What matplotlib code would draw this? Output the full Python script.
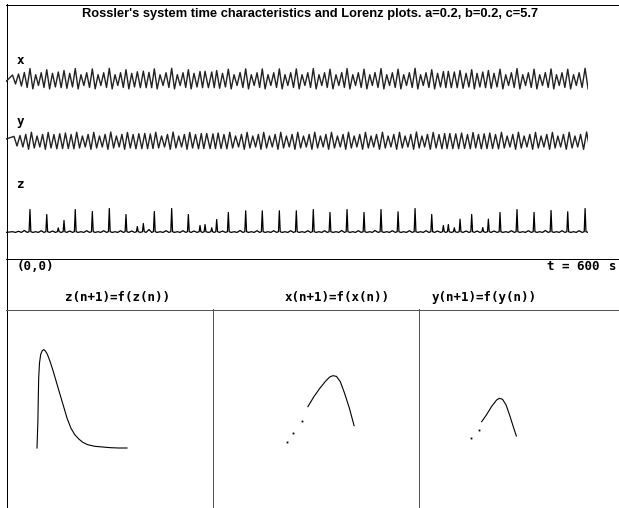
import matplotlib
matplotlib.use("Agg")
import matplotlib.pyplot as plt
import numpy as np

W, H = 619, 508

# one entry per oscillation of the attractor (time of the x maximum / z spike)
cycle_t = [6.7, 12.9, 18.9, 24.7, 30.6, 36.3, 42.0, 47.9, 53.9, 59.8,
           65.7, 71.4, 77.3, 83.2, 89.0, 94.9, 100.7, 106.5, 112.4, 118.1,
           123.7, 129.6, 135.4, 141.6, 147.4, 152.9, 158.8, 165.0, 170.8, 176.6,
           182.5, 188.0, 193.8, 200.0, 205.2, 212.1, 217.2, 223.2, 229.2, 235.1,
           241.3, 247.1, 252.9, 258.8, 264.2, 270.1, 276.0, 281.8, 287.6, 293.5,
           299.3, 305.2, 311.1, 316.8, 322.7, 328.4, 334.0, 340.2, 346.1, 351.6,
           357.5, 363.2, 369.1, 375.0, 380.4, 386.6, 392.5, 398.3, 404.2, 410.0,
           415.8, 421.7, 427.4, 433.0, 438.9, 444.9, 450.9, 456.0, 462.2, 468.1,
           474.3, 480.1, 485.6, 491.5, 497.3, 503.1, 509.3, 515.2, 521.0, 526.8,
           532.7, 538.5, 544.4, 550.2, 556.0, 561.9, 567.5, 573.2, 579.1, 585.1,
           590.8, 597.0]

z_peak = [0.8, 1.2, 2.0, 23, 0.8, 1.8, 18, 1.5, 4.6, 12,
          1.5, 23, 0.8, 1.8, 21, 0.8, 1.8, 24, 0.8, 1.8,
          18, 1.5, 6, 9, 3, 21, 0.8, 1.8, 24, 0.8,
          1.8, 18, 1.5, 7, 8, 4.7, 13, 1.5, 20, 0.8,
          2.0, 21.7, 0.8, 1.8, 21.7, 0.8, 1.8, 21.7, 0.8, 1.8,
          21.7, 0.8, 1.8, 23, 0.8, 1.8, 20, 0.8, 2.0, 23,
          0.8, 1.8, 20, 0.8, 2.0, 23, 0.8, 1.8, 20.7, 0.8,
          1.8, 24, 0.8, 1.8, 18, 1.5, 7, 8, 4.7, 13.3,
          1.5, 18, 1.5, 5, 13.3, 1.5, 20, 0.8, 1.8, 23,
          0.8, 1.8, 20, 0.8, 2.0, 22, 0.8, 1.8, 20.7, 0.8,
          1.8, 24]
z_floor = 0.1

x_start = -2.0
x_max = [4.5, 5.5, 7.0, 10.9, 4.8, 6.8, 9.8, 6.2, 7.5, 9.0,
         6.2, 10.9, 4.8, 6.8, 10.6, 4.8, 6.8, 11.2, 4.8, 6.8,
         9.8, 6.2, 7.8, 8.4, 7.2, 10.6, 4.8, 6.8, 11.2, 4.8,
         6.8, 9.8, 6.2, 8.0, 8.2, 7.5, 9.0, 6.2, 10.3, 4.8,
         7.0, 10.6, 4.8, 6.8, 10.6, 4.8, 6.8, 10.6, 4.8, 6.8,
         10.6, 4.8, 6.8, 10.9, 4.8, 6.8, 10.3, 4.8, 7.0, 10.9,
         4.8, 6.8, 10.3, 4.8, 7.0, 10.9, 4.8, 6.8, 10.3, 4.8,
         6.8, 11.2, 4.8, 6.8, 9.8, 6.2, 8.0, 8.2, 7.5, 9.0,
         6.2, 9.8, 6.2, 7.5, 9.0, 6.2, 10.3, 4.8, 6.8, 10.9,
         4.8, 6.8, 10.3, 4.8, 7.0, 10.6, 4.8, 6.8, 10.3, 4.8,
         6.8, 11.2]
x_min = [-4.5, -6.5, -8.0, -9.4, -6.0, -8.0, -9.4, -7.5, -8.2, -8.8,
         -7.5, -9.4, -6.0, -8.0, -9.4, -6.0, -8.0, -9.4, -6.0, -8.0,
         -9.4, -7.5, -8.2, -8.2, -8.2, -9.4, -6.0, -8.0, -9.4, -6.0,
         -8.0, -9.4, -7.5, -8.2, -8.2, -8.2, -8.8, -7.5, -9.4, -6.0,
         -8.0, -9.4, -6.0, -8.0, -9.4, -6.0, -8.0, -9.4, -6.0, -8.0,
         -9.4, -6.0, -8.0, -9.4, -6.0, -8.0, -9.4, -6.0, -8.0, -9.4,
         -6.0, -8.0, -9.4, -6.0, -8.0, -9.4, -6.0, -8.0, -9.4, -6.0,
         -8.0, -9.4, -6.0, -8.0, -9.4, -7.5, -8.2, -8.2, -8.2, -8.8,
         -7.5, -9.4, -7.5, -8.2, -8.8, -7.5, -9.4, -6.0, -8.0, -9.4,
         -6.0, -8.0, -9.4, -6.0, -8.0, -9.4, -6.0, -8.0, -9.4, -6.0,
         -8.0, -9.4]

y_start = 2.0
y_max = [4.6, 5.5, 6.6, 8.8, 5.0, 6.6, 8.6, 6.5, 7.3, 8.0,
         6.5, 8.8, 5.0, 6.6, 8.7, 5.0, 6.6, 9.0, 5.0, 6.6,
         8.6, 6.5, 7.3, 7.6, 7.0, 8.7, 5.0, 6.6, 9.0, 5.0,
         6.6, 8.6, 6.5, 7.4, 7.5, 7.2, 8.0, 6.5, 8.7, 5.0,
         6.6, 8.7, 5.0, 6.6, 8.7, 5.0, 6.6, 8.7, 5.0, 6.6,
         8.7, 5.0, 6.6, 8.8, 5.0, 6.6, 8.7, 5.0, 6.6, 8.8,
         5.0, 6.6, 8.7, 5.0, 6.6, 8.8, 5.0, 6.6, 8.7, 5.0,
         6.6, 9.0, 5.0, 6.6, 8.6, 6.5, 7.4, 7.5, 7.2, 8.0,
         6.5, 8.6, 6.5, 7.2, 8.0, 6.5, 8.7, 5.0, 6.6, 8.8,
         5.0, 6.6, 8.7, 5.0, 6.6, 8.7, 5.0, 6.6, 8.7, 5.0,
         6.6, 9.0]
y_min = [-5.0, -6.0, -8.3, -7.0, -6.0, -8.3, -7.0, -7.8, -7.6, -7.5,
         -7.8, -7.0, -6.0, -8.3, -7.0, -6.0, -8.3, -7.0, -6.0, -8.3,
         -7.0, -7.8, -7.6, -7.6, -7.6, -7.0, -6.0, -8.3, -7.0, -6.0,
         -8.3, -7.0, -7.8, -7.6, -7.6, -7.6, -7.5, -7.8, -7.0, -6.0,
         -8.3, -7.0, -6.0, -8.3, -7.0, -6.0, -8.3, -7.0, -6.0, -8.3,
         -7.0, -6.0, -8.3, -7.0, -6.0, -8.3, -7.0, -6.0, -8.3, -7.0,
         -6.0, -8.3, -7.0, -6.0, -8.3, -7.0, -6.0, -8.3, -7.0, -6.0,
         -8.3, -7.0, -6.0, -8.3, -7.0, -7.8, -7.6, -7.6, -7.6, -7.5,
         -7.8, -7.0, -7.8, -7.6, -7.5, -7.8, -7.0, -6.0, -8.3, -7.0,
         -6.0, -8.3, -7.0, -6.0, -8.3, -7.0, -6.0, -8.3, -7.0, -6.0,
         -8.3, -7.0]

# return maps (successive maxima)
zmap_n = [0.0, 0.22, 0.32, 0.42, 0.62, 0.92, 1.3, 1.7, 2.1, 2.6, 3.28, 4.08, 4.87,
          5.75, 6.54, 7.53, 8.51, 9.5, 10.5, 11.48, 12.66, 14.44, 16.4, 18.4, 20.4, 22.5]
zmap_n1 = [0.0, 6.6, 12.4, 17.4, 21.2, 23.4, 24.3, 24.6, 24.25, 23.4, 21.6, 19.1, 16.4,
           13.4, 10.75, 7.4, 4.9, 3.25, 2.2, 1.4, 0.83, 0.42, 0.25, 0.08, 0.0, 0.0]
xmap_n = [5.74, 6.49, 7.22, 7.96, 8.46, 8.85, 9.3, 9.79, 10.28, 10.93, 11.51]
xmap_n1 = [7.92, 9.17, 10.2, 11.12, 11.62, 11.79, 11.71, 11.04, 9.71, 7.71, 5.54]
xmap_dots_n = [3.12, 3.88, 5.0]
xmap_dots_n1 = [3.5, 4.62, 6.12]
ymap_n = [4.58, 5.17, 5.81, 6.45, 6.8, 7.2, 7.64, 8.14, 8.53, 8.92]
ymap_n1 = [6.04, 6.87, 7.92, 8.75, 8.96, 8.83, 8.12, 6.67, 5.42, 4.25]
ymap_dots_n = [3.2, 4.24]
ymap_dots_n1 = [3.96, 5.0]

T_END = 600

fig = plt.figure(figsize=(W / 100, H / 100), dpi=100)
fig.patch.set_facecolor("white")


def px_axes(x0, y0, x1, y1):
    ax = fig.add_axes([x0 / W, 1 - y1 / H, (x1 - x0) / W, (y1 - y0) / H])
    ax.set_facecolor("none")
    ax.axis("off")
    return ax


# frame / text layer in pixel coordinates
frame = px_axes(0, 0, W, H)
frame.set_xlim(0, W)
frame.set_ylim(H, 0)
line_kw = dict(lw=0.5, antialiased=False, solid_capstyle="butt")
frame.plot([6.5, 6.5], [4, H], color="black", **line_kw)
frame.plot([6, W], [4.5, 4.5], color="black", **line_kw)
frame.plot([6, W], [258.5, 258.5], color="black", **line_kw)
frame.plot([6, W], [309.5, 309.5], color="#555555", **line_kw)
frame.plot([212.5, 212.5], [309, H], color="#555555", **line_kw)
frame.plot([418.5, 418.5], [309, H], color="#555555", **line_kw)

title_font = ["Liberation Sans Narrow", "Liberation Sans", "DejaVu Sans"]
frame.text(310, 14, "Rossler's system time characteristics and Lorenz plots. a=0.2, b=0.2, c=5.7",
           ha="center", va="center", fontsize=9.3, family=title_font, weight="bold")

mono = dict(family="DejaVu Sans Mono", weight="bold", fontsize=9, va="center")
frame.text(17, 61, "x", ha="left", **mono)
frame.text(17, 122, "y", ha="left", **mono)
frame.text(17, 185, "z", ha="left", **mono)
frame.text(17, 267, "(0,0)", ha="left", **mono)
frame.text(547, 267, "t = 600", ha="left", **mono)
frame.text(609, 267, "s", ha="left", **mono)
frame.text(118, 297, "z(n+1)=f(z(n))", ha="center", **mono)
frame.text(337, 297, "x(n+1)=f(x(n))", ha="center", **mono)
frame.text(484, 297, "y(n+1)=f(y(n))", ha="center", **mono)

# ---- time characteristics
per = np.diff(cycle_t)
per = np.append(per, per[-1])

tx, vx = [0.0], [x_start]
ty, vy = [0.0], [y_start]
tz, vz = [0.0], [z_floor]
for tk, pk, xh, xl, yh, yl, zh in zip(cycle_t, per, x_max, x_min, y_max, y_min, z_peak):
    tx += [tk, tk + pk / 2]
    vx += [xh, xl]
    ty += [tk + pk / 4, tk + 3 * pk / 4]
    vy += [yh, yl]
    if zh > 3:
        tz += [tk - 0.9, tk, tk + 0.9]
        vz += [0.8, zh, 0.8]
    else:
        tz.append(tk)
        vz.append(zh)
    tz.append(tk + pk / 2)
    vz.append(z_floor)

ax_x = px_axes(6, 59, 588, 99)
ax_x.set_xlim(0, T_END)
ax_x.set_ylim(-19.5, 20.5)
ax_x.plot(tx, vx, color="#222222", lw=1.0)

ax_y = px_axes(6, 121, 588, 161)
ax_y.set_xlim(0, T_END)
ax_y.set_ylim(-20, 20)
ax_y.plot(ty, vy, color="#222222", lw=1.0)

ax_z = px_axes(6, 195, 588, 240)
ax_z.set_xlim(0, T_END)
ax_z.set_ylim(-7.5, 37.5)
ax_z.plot(tz, vz, color="black", lw=0.9)


# ---- Lorenz maps
def map_axes(x0, x1, ox, oy, scale):
    ax = px_axes(x0, 309, x1, H)
    ax.set_xlim((x0 - ox) / scale, (x1 - ox) / scale)
    ax.set_ylim((oy - H) / scale, (oy - 309) / scale)
    return ax


ax_zm = map_axes(6, 212, 37, 448, 4)
ax_zm.plot(zmap_n, zmap_n1, color="black", lw=0.8)

ax_xm = map_axes(212, 418, 262, 470, 8)
ax_xm.plot(xmap_n, xmap_n1, color="black", lw=0.8)
ax_xm.plot(xmap_dots_n, xmap_dots_n1, ls="none", marker="s", ms=1.3, mew=0, color="black")

ax_ym = map_axes(418, W, 445, 470, 8)
ax_ym.plot(ymap_n, ymap_n1, color="black", lw=0.8)
ax_ym.plot(ymap_dots_n, ymap_dots_n1, ls="none", marker="s", ms=1.3, mew=0, color="black")

fig.savefig("out.png", dpi=100)
